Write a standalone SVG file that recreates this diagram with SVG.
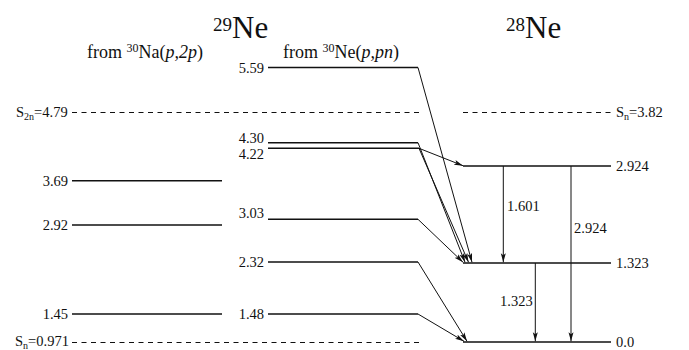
<svg xmlns="http://www.w3.org/2000/svg" width="689" height="350" viewBox="0 0 689 350" font-family="'Liberation Serif', 'Times New Roman', 'DejaVu Serif', serif">
<style>
text, tspan{font-family:'Liberation Serif','Times New Roman','DejaVu Serif',serif;fill:#111}
.lv{stroke:#111;stroke-width:1.6;fill:none}
.ds{stroke:#111;stroke-width:1.2;stroke-dasharray:5 4.5;fill:none}
.lb{font-size:14.5px}
.r{text-anchor:end}
.ar{stroke:#111;stroke-width:1;fill:none;marker-end:url(#ah)}
.ttl{font-size:31px}
.sub{font-size:19px}
.fr{font-size:18px}
.frs{font-size:12px}
</style>
<defs>
<marker id="ah" markerUnits="userSpaceOnUse" markerWidth="10" markerHeight="6" refX="9" refY="3" orient="auto">
<path d="M0,0.5 L9,3 L0,5.5 L2,3 z" fill="#111"/>
</marker>
</defs>
<rect width="689" height="350" fill="#fff"/>
<g id="titles">
<text x="213" y="38.3"><tspan class="sub" dy="-7">29</tspan><tspan class="ttl" dy="7">Ne</tspan></text>
<text x="506" y="38.3"><tspan class="sub" dy="-7">28</tspan><tspan class="ttl" dy="7">Ne</tspan></text>
<text x="87" y="58"><tspan class="fr">from </tspan><tspan class="frs" dy="-6">30</tspan><tspan class="fr" dy="6">Na(</tspan><tspan class="fr" font-style="italic">p,2p</tspan><tspan class="fr">)</tspan></text>
<text x="283" y="58"><tspan class="fr">from </tspan><tspan class="frs" dy="-6">30</tspan><tspan class="fr" dy="6">Ne(</tspan><tspan class="fr" font-style="italic">p,pn</tspan><tspan class="fr">)</tspan></text>
</g>
<g id="thresholds">
<line class="ds" x1="72" y1="112.5" x2="421" y2="112.5"/>
<text class="lb" x="16" y="117"><tspan>S</tspan><tspan font-size="10px" dy="3">2n</tspan><tspan dy="-3">=4.79</tspan></text>
<line class="ds" x1="463" y1="112.5" x2="612" y2="112.5"/>
<text class="lb" x="616" y="117"><tspan>S</tspan><tspan font-size="10px" dy="3">n</tspan><tspan dy="-3">=3.82</tspan></text>
<line class="ds" x1="72" y1="342.5" x2="419" y2="342.5"/>
<text class="lb" x="15" y="346"><tspan>S</tspan><tspan font-size="10px" dy="3">n</tspan><tspan dy="-3">=0.971</tspan></text>
</g>
<g id="na-3.69"><line class="lv" x1="72" y1="180.7" x2="222" y2="180.7"/><text class="lb r" x="68" y="185.7">3.69</text></g>
<g id="na-2.92"><line class="lv" x1="72" y1="225" x2="222" y2="225"/><text class="lb r" x="68" y="230">2.92</text></g>
<g id="na-1.45"><line class="lv" x1="72" y1="314" x2="222" y2="314"/><text class="lb r" x="68" y="319">1.45</text></g>
<g id="ne-5.59"><line class="lv" x1="268" y1="67.5" x2="418" y2="67.5"/><text class="lb r" x="264" y="72.5">5.59</text></g>
<g id="ne-4.30"><line class="lv" x1="268" y1="142.7" x2="418" y2="142.7"/><text class="lb r" x="264" y="142.5">4.30</text></g>
<g id="ne-4.22"><line class="lv" x1="268" y1="148.3" x2="419" y2="148.3"/><text class="lb r" x="264" y="158.5">4.22</text></g>
<g id="ne-3.03"><line class="lv" x1="268" y1="219.3" x2="418" y2="219.3"/><text class="lb r" x="264" y="218">3.03</text></g>
<g id="ne-2.32"><line class="lv" x1="268" y1="262" x2="418" y2="262"/><text class="lb r" x="264" y="267">2.32</text></g>
<g id="ne-1.48"><line class="lv" x1="268" y1="314" x2="418" y2="314"/><text class="lb r" x="264" y="319">1.48</text></g>
<g id="ne28-2.924"><line class="lv" x1="463" y1="166" x2="611" y2="166"/><text class="lb" x="616" y="171">2.924</text></g>
<g id="ne28-1.323"><line class="lv" x1="463" y1="263" x2="611" y2="263"/><text class="lb" x="616" y="268">1.323</text></g>
<g id="ne28-0.0"><line class="lv" x1="463" y1="342" x2="611" y2="342"/><text class="lb" x="616" y="347">0.0</text></g>
<g id="connectors">
<line class="ar" x1="418" y1="67.5" x2="472" y2="262.2"/>
<line class="ar" x1="418" y1="142.7" x2="465" y2="262.2"/>
<line class="ar" x1="419" y1="148.3" x2="468.5" y2="262.2"/>
<line class="ar" x1="419" y1="148.3" x2="463" y2="165.7"/>
<line class="ar" x1="418" y1="219.3" x2="463" y2="262.2"/>
<line class="ar" x1="418" y1="262" x2="467" y2="341.3"/>
<line class="ar" x1="418" y1="314" x2="464" y2="341.3"/>
<line class="ar" x1="503.3" y1="166" x2="503.3" y2="262.3"/>
<line class="ar" x1="571" y1="166" x2="571" y2="341.3"/>
<line class="ar" x1="535.3" y1="263" x2="535.3" y2="341.3"/>
<text class="lb" x="507" y="211">1.601</text>
<text class="lb" x="574" y="233">2.924</text>
<text class="lb" x="500" y="306">1.323</text>
</g>
</svg>
